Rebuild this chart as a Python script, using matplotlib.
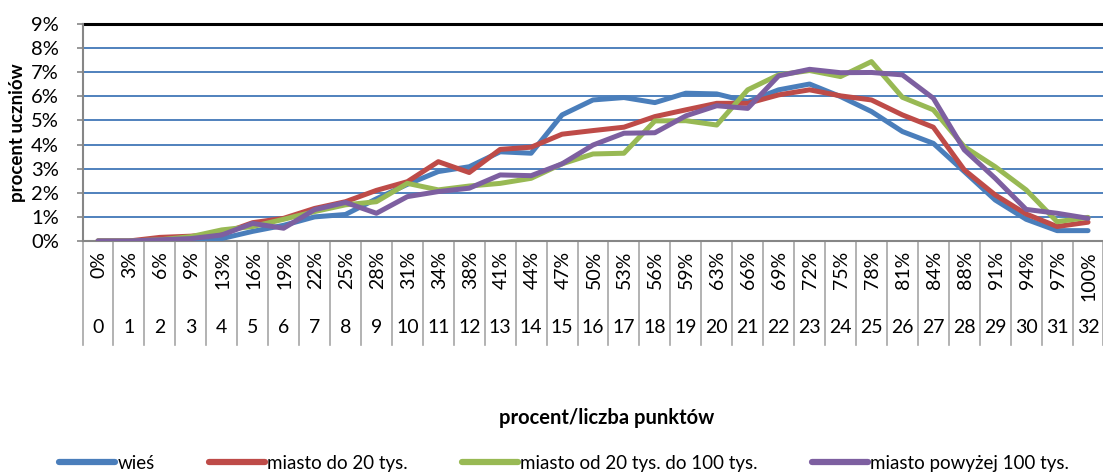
import matplotlib
matplotlib.use("Agg")
import matplotlib.pyplot as plt

plt.rcParams['font.family'] = ['Lato', 'DejaVu Sans']

points = list(range(33))
pct_labels = ["0%", "3%", "6%", "9%", "13%", "16%", "19%", "22%", "25%", "28%", "31%",
              "34%", "38%", "41%", "44%", "47%", "50%", "53%", "56%", "59%", "63%", "66%",
              "69%", "72%", "75%", "78%", "81%", "84%", "88%", "91%", "94%", "97%", "100%"]

wies = [0, 0, 0.03, 0.05, 0.1, 0.4, 0.65, 1.0, 1.1, 1.75, 2.35, 2.88, 3.08, 3.7, 3.64,
        5.23, 5.85, 5.95, 5.74, 6.13, 6.1, 5.78, 6.27, 6.51, 5.99, 5.37, 4.54, 4.05,
        2.88, 1.7, 0.9, 0.43, 0.43]
miasto_do20 = [0, 0, 0.15, 0.2, 0.3, 0.76, 0.94, 1.35, 1.63, 2.1, 2.46, 3.29, 2.84, 3.8,
               3.89, 4.43, 4.58, 4.72, 5.16, 5.44, 5.71, 5.71, 6.06, 6.27, 6.02, 5.85,
               5.23, 4.72, 2.95, 1.91, 1.12, 0.6, 0.78]
miasto_20_100 = [0, 0, 0.05, 0.18, 0.46, 0.6, 0.9, 1.22, 1.5, 1.63, 2.39, 2.12, 2.28,
                 2.39, 2.6, 3.2, 3.61, 3.64, 4.98, 4.99, 4.81, 6.27, 6.89, 7.07, 6.82,
                 7.44, 5.96, 5.44, 3.91, 3.08, 2.12, 0.8, 0.98]
miasto_pow100 = [0, 0, 0.05, 0.1, 0.25, 0.73, 0.53, 1.3, 1.6, 1.15, 1.84, 2.05, 2.19,
                 2.74, 2.71, 3.2, 3.98, 4.47, 4.49, 5.19, 5.61, 5.5, 6.85, 7.12, 6.98,
                 6.99, 6.89, 5.92, 3.78, 2.6, 1.31, 1.15, 0.94]

series_names = ["wieś", "miasto do 20 tys.", "miasto od 20 tys. do 100 tys.",
                "miasto powyżej 100 tys."]
series = [wies, miasto_do20, miasto_20_100, miasto_pow100]
colors = ["#4A7EBB", "#BE4B48", "#98B954", "#7D5FA0"]

W, H = 1103, 473
fig = plt.figure(figsize=(W / 100, H / 100), dpi=100)
left, right, top, bottom = 82.5, 1103.5, 24, 241
ax = fig.add_axes([left / W, 1 - bottom / H, (right - left) / W, (bottom - top) / H])

ax.set_xlim(-0.5, 32.5)
ax.set_ylim(0, 9)

yt = list(range(10))
ax.set_yticks(yt)
ax.set_yticklabels([f"{v}%" for v in yt], fontsize=14.5)
for v in yt[1:-1]:
    ax.axhline(v, color="#4F81BD", lw=1.4, zorder=1)
ax.axhline(9, color="black", lw=2.2, zorder=1, clip_on=False)

ax.tick_params(axis="y", direction="out", length=4, width=1.2, color="#868686", pad=13)
ax.set_xticks([])
for s in ["top", "right"]:
    ax.spines[s].set_visible(False)
ax.spines["left"].set_color("#868686")
ax.spines["left"].set_linewidth(1.5)
ax.spines["bottom"].set_color("#868686")
ax.spines["bottom"].set_linewidth(1.5)

lines = []
for name, vals, c in zip(series_names, series, colors):
    ln, = ax.plot(points, vals, color=c, lw=3.6, label=name, zorder=3,
                  solid_capstyle="round", solid_joinstyle="round")
    lines.append(ln)

# multi-level category axis
trans = ax.get_xaxis_transform()
ah = bottom - top
sep_bottom = -(345 - bottom) / ah
for i in range(34):
    xb = i - 0.5
    ax.plot([xb, xb], [0, sep_bottom], transform=trans, color="#A6A6A6", lw=1.2,
            clip_on=False, zorder=2)
for i, lab in zip(points, pct_labels):
    ax.text(i + 0.03, -(251 - bottom) / ah, lab, transform=trans, rotation=90, ha="center",
            va="top", fontsize=14, color="black")
    ax.text(i, -(327 - bottom) / ah, str(i), transform=trans, ha="center", va="center",
            fontsize=14, color="black")

fig.text(18 / W, 1 - 133 / H, "procent uczniów", rotation=90, ha="center", va="center",
         fontsize=13.5, fontweight="bold")
fig.text(607 / W, 1 - 418 / H, "procent/liczba punktów", ha="center", va="center",
         fontsize=14.5, fontweight="bold")

leg = fig.legend(lines, series_names, loc="center", bbox_to_anchor=(564 / W, 1 - 463 / H),
                 ncol=4, frameon=False, fontsize=13.5, handlelength=3.0, handletextpad=0.1,
                 columnspacing=2.9, borderaxespad=0)
for h in leg.legend_handles:
    h.set_linewidth(4.5)
    h.set_solid_capstyle("round")

fig.savefig("out.png", dpi=100)
